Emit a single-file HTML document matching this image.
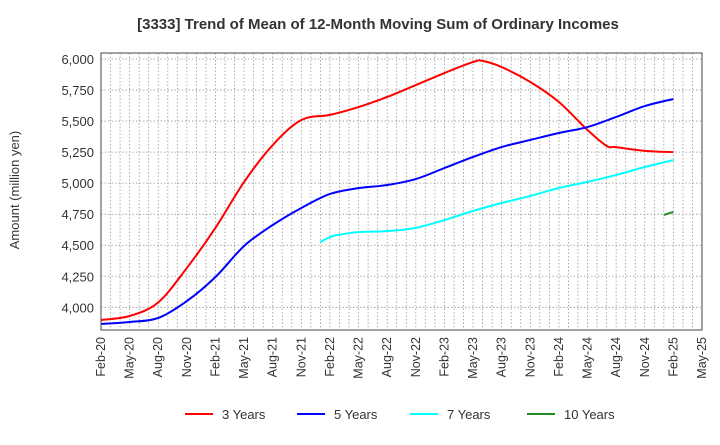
<!DOCTYPE html>
<html><head><meta charset="utf-8"><style>
body{margin:0;background:#fff;font-family:"Liberation Sans",Arial,sans-serif;}
svg text{font-family:"Liberation Sans",Arial,sans-serif;}
</style></head><body>
<svg width="720" height="440" viewBox="0 0 720 440" id="c">
<text x="378" y="29" text-anchor="middle" font-size="15" font-weight="bold" fill="#333">[3333]  Trend of Mean of 12-Month Moving Sum of Ordinary Incomes</text>
<text transform="translate(19,190) rotate(-90)" text-anchor="middle" font-size="13" fill="#333">Amount (million yen)</text>
<g id="grid"></g>
<g id="series"></g>
<rect x="101" y="53" width="601" height="277" fill="none" stroke="#444" stroke-width="1"/>
<g id="axes"></g>
<g id="legend"></g>
</svg>
<script>
const xLabels=["Feb-20","May-20","Aug-20","Nov-20","Feb-21","May-21","Aug-21","Nov-21","Feb-22","May-22","Aug-22","Nov-22","Feb-23","May-23","Aug-23","Nov-23","Feb-24","May-24","Aug-24","Nov-24","Feb-25","May-25"];
const yTicks=[4000,4250,4500,4750,5000,5250,5500,5750,6000];
const m3=[0,3,6,9,12,15,18,21,24,27,30,33,36,39,40,42,45,48,51,53,54,57,60];
const v3=[3898,3930,4040,4317,4640,5010,5307,5509,5550,5613,5694,5790,5887,5976,5985,5935,5815,5654,5428,5300,5290,5260,5250];
const m5=[0,3,6,9,12,15,18,21,24,27,30,33,36,39,42,45,48,51,54,57,60];
const v5=[3866,3882,3914,4050,4244,4494,4663,4800,4913,4960,4985,5033,5122,5211,5291,5348,5404,5452,5533,5621,5678];
const m7=[23,24,25,27,30,33,36,39,42,45,48,51,54,57,60];
const v7=[4526,4566,4585,4606,4614,4640,4703,4776,4840,4897,4961,5010,5066,5130,5186];
const m10=[59,60];
const v10=[4744,4768];
const NS="http://www.w3.org/2000/svg";
const X=m=>101+m*(601/63);
const Y=v=>59+(6000-v)*0.12415;
function el(t,a,p){const e=document.createElementNS(NS,t);for(const k in a)e.setAttribute(k,a[k]);p.appendChild(e);return e;}
const grid=document.getElementById('grid'),axes=document.getElementById('axes'),ser=document.getElementById('series'),leg=document.getElementById('legend');
for(let m=1;m<63;m++){const l=el('line',{x1:X(m),x2:X(m),y1:53,y2:330,stroke:'#999','stroke-width':0.8,'stroke-dasharray':'1.5,2'},grid);

}
yTicks.forEach(v=>{const l=el('line',{x1:101,x2:702,y1:Y(v),y2:Y(v),stroke:'#999','stroke-width':0.8,'stroke-dasharray':'1.5,2'},grid);


const t=el('text',{x:94,y:Y(v)+5,'text-anchor':'end','font-size':13,fill:'#333'},axes);t.textContent=v.toLocaleString('en-US');

});
xLabels.forEach((s,i)=>{const x=X(i*3);const t=el('text',{transform:`translate(${x+4},337) rotate(-90)`,'text-anchor':'end','font-size':12.5,fill:'#333'},axes);t.textContent=s;

});
function path(ms,vs){const p=ms.map((m,i)=>[X(m),Y(vs[i])]);let d=`M${p[0][0]},${p[0][1]}`;
for(let i=0;i<p.length-1;i++){const p0=p[i-1]||p[i],p1=p[i],p2=p[i+1],p3=p[i+2]||p2;
d+=` C${p1[0]+(p2[0]-p0[0])/6},${p1[1]+(p2[1]-p0[1])/6} ${p2[0]-(p3[0]-p1[0])/6},${p2[1]-(p3[1]-p1[1])/6} ${p2[0]},${p2[1]}`;}return d;}
const S=[[m3,v3,'#f00','3 Years',185],[m5,v5,'#00f','5 Years',297],[m7,v7,'#0ff','7 Years',410],[m10,v10,'#228b22','10 Years',527]];
S.forEach(s=>{const p=el('path',{d:path(s[0],s[1]),fill:'none',stroke:s[2],'stroke-width':2},ser);


const g=el('g',{},leg);


el('line',{x1:s[4],x2:s[4]+28,y1:414,y2:414,stroke:s[2],'stroke-width':2},g);
const t=el('text',{x:s[4]+37,y:419,'font-size':13,fill:'#333'},g);t.textContent=s[3];});
</script>
</body></html>
